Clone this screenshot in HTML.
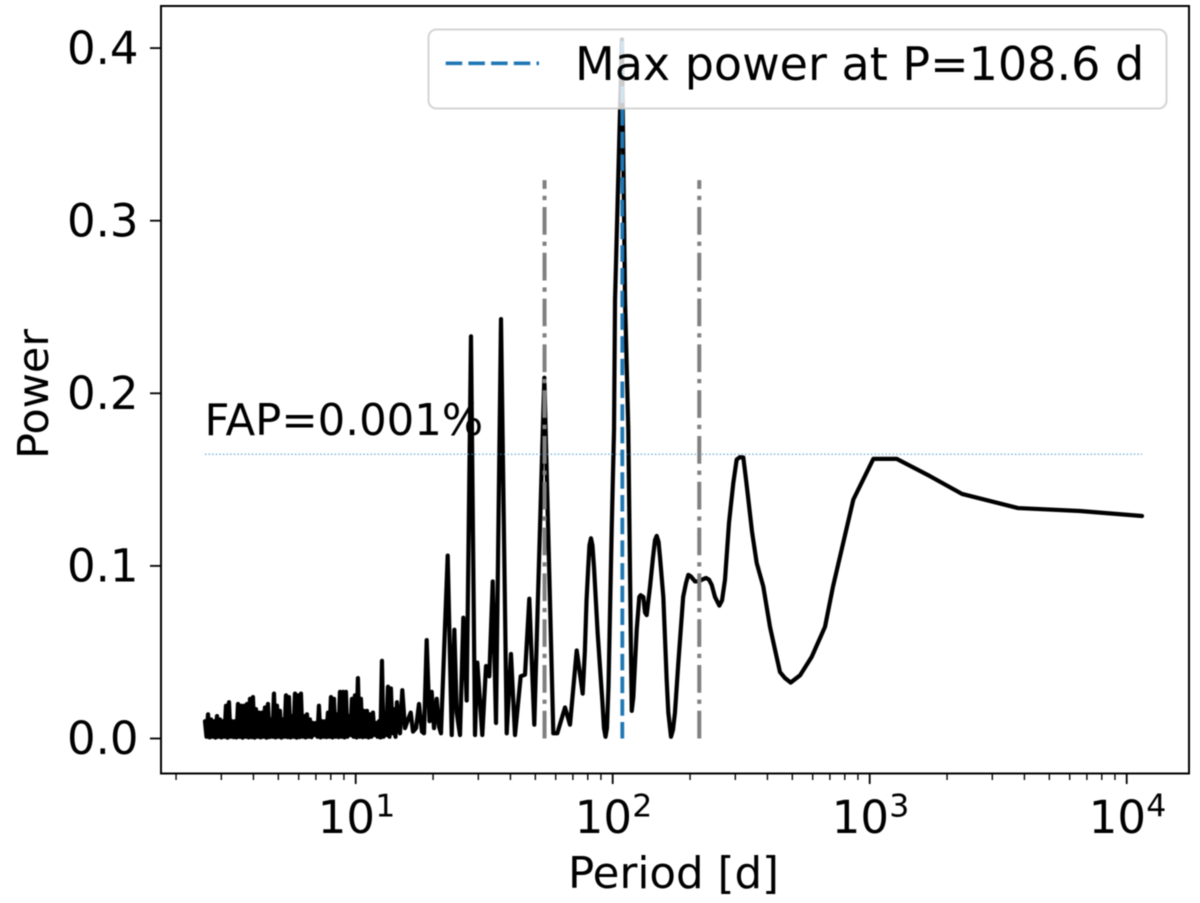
<!DOCTYPE html>
<html lang="en">
<head>
<meta charset="utf-8">
<title>Periodogram</title>
<style>
html,body{margin:0;padding:0;background:#fff;width:1200px;height:903px;overflow:hidden}
svg{display:block;filter:blur(0.45px)}
text{font-family:"DejaVu Sans","Liberation Sans",sans-serif;fill:#000}
</style>
</head>
<body>
<svg id="chart" xmlns="http://www.w3.org/2000/svg" width="1200" height="903" viewBox="0 0 1200 903">
  <rect x="0" y="0" width="1200" height="903" fill="#fff"/>
  <g id="marks"></g>
  <rect x="161" y="6" width="1028" height="767.5" fill="none" stroke="#000" stroke-width="2"/>
  <g id="ticks"></g>
  <text x="204.5" y="435" font-size="43.4">FAP=0.001%</text>
  <text x="568" y="888" font-size="43.5">Period [d]</text>
  <text transform="translate(48,459) rotate(-90)" font-size="43">Power</text>
  <g>
    <rect x="428.5" y="29.5" width="738" height="79" rx="8" ry="8" fill="#fff" fill-opacity="0.8" stroke="#ccc" stroke-opacity="0.85" stroke-width="2"/>
    <line x1="445.7" y1="63.3" x2="539" y2="63.3" stroke="#1f77b4" stroke-width="3.6" stroke-dasharray="16.5 6.2"/>
    <text x="575" y="80" font-size="46">Max power at P=108.6 d</text>
  </g>
</svg>
<script>
var noisePeriods = [2.592,2.627,2.663,2.699,2.735,2.772,2.810,2.848,2.886,2.925,2.964,3.004,3.045,3.086,3.128,3.170,3.213,3.257,3.301,3.345,3.391,3.436,3.483,3.530,3.578,3.626,3.675,3.725,3.775,3.826,3.878,3.930,3.983,4.037,4.092,4.147,4.203,4.260,4.318,4.376,4.435,4.495,4.556,4.618,4.680,4.744,4.808,4.873,4.939,5.005,5.073,5.142,5.211,5.282,5.353,5.426,5.499,5.573,5.649,5.725,5.803,5.881,5.961,6.041,6.123,6.206,6.290,6.375,6.461,6.548,6.637,6.727,6.818,6.910,7.004,7.098,7.194,7.292,7.390,7.490,7.591,7.694,7.798,7.904,8.011,8.119,8.229,8.340,8.453,8.567,8.683,8.800,8.919,9.040,9.162,9.286,9.412,9.539,9.668,9.799,9.931,10.07,10.20,10.34,10.48,10.62,10.76,10.91,11.06,11.21,11.36,11.51,11.67,11.83,11.99,12.15,12.31,12.48,12.65,12.82,12.99,13.17,13.35,13.53,13.71,13.90,14.09,14.28,14.47];
var noisePower = [.010,.001,.014,.0006,.011,.001,.010,.0005,.013,.001,.011,.0006,.010,.001,.019,.0005,.021,.001,.010,.0008,.010,.0006,.020,.001,.019,.0005,.019,.001,.020,.0006,.023,.0008,.024,.0005,.017,.001,.015,.0006,.015,.001,.018,.0005,.020,.0008,.011,.001,.026,.0006,.019,.001,.016,.0005,.011,.001,.025,.0008,.024,.0006,.013,.001,.026,.0005,.025,.0008,.026,.001,.013,.0006,.014,.001,.011,.0008,.009,.002,.009,.001,.019,.0006,.010,.001,.010,.0008,.015,.001,.024,.0006,.023,.001,.014,.0008,.027,.001,.027,.0006,.027,.001,.013,.002,.023,.001,.025,.0006,.035,.001,.023,.0008,.016,.001,.016,.0006,.014,.001,.015,.002,.009,.001,.010,.0006,.045,.001,.010,.002,.030,.001,.029,.003,.017,.001,.021];
var resolvedPeriods = [14.87,15.18,15.55,15.98,16.37,16.71,17.17,17.63,18.11,18.44,18.89,19.37,19.75,20.17,20.66,21.09,21.47,22.80,23.64,24.20,24.72,25.46,26.23,27.03,28.09,29.12,29.73,31.09,32.14,33.10,34.13,35.15,36.76,38.69,40.20,41.67,43.85,45.58,47.37,49.54,54.19,58.74,60.87,65.23,68.21,72.44,76.42,77.9,79.1,80.3,81.2,82.32,83.4,84.6,87.4,91.1,92.5,93.77,95.0,96.3,99.1,101.2,102.1,108.6,111.7,115.0,117.5,118.6,120.3,124.0,126.9,128.5,131.6,133.6,135.6,139.7,143.5,146.1,148.3,150.8,152.8,157.4,162.2,164.6,168.6,171.6,174.7,180,188,192.8,196.9,201.2,209.0,215.3,222.6,230.7,237,242.8,250,259.9,266.3,273.5,283.5,294.6,303.7,312.7,322.3,330.2,336.2,348.3,363.3,385.5,409.4,434.7,447.7,468,492.7,535.7,594.7,670.0,719.7,863.4,1033,1274,1716,2287,3776,6582,11470];
var resolvedPower = [.003,.028,.006,.011,.015,.004,.006,.020,.004,.003,.057,.010,.027,.006,.023,.007,.003,.106,.002,.063,.015,.002,.070,.022,.233,.002,.044,.002,.042,.036,.091,.009,.243,.003,.049,.002,.036,.037,.081,.008,.209,.003,.003,.018,.008,.051,.026,.05,.08,.099,.112,.116,.112,.099,.061,.022,.006,.001,.006,.03,.121,.179,.254,.405,.254,.179,.063,.016,.024,.063,.082,.083,.082,.073,.0715,.088,.105,.115,.1174,.114,.105,.082,.034,.015,.001,.005,.015,.0437,.082,.090,.0948,.094,.091,.091,.092,.093,.092,.089,.082,.077,.08,.092,.125,.148,.1616,.163,.1628,.15,.14,.12,.1017,.088,.0646,.047,.0385,.035,.0324,.0366,.0473,.0647,.088,.1384,.162,.162,.152,.1417,.1335,.1318,.1289];
var fapPeriodRange = [2.592,11470];
var fapLevel = [.1647];
var harmonicPeriods = [54.3,217.2];
var harmonicRange = [0,.3235];
var maxPeriod = [108.6];
var maxPowerRange = [0,.405];
var xMajorExponents = [1,2,3,4];
var xMinorMultipliers = [2,3,4,5,6,7,8,9];
var xMinorDecades = [0,1,2,3];
var yTickValues = [0,.1,.2,.3,.4];
var yTickLabels = ['0.0','0.1','0.2','0.3','0.4'];

var NS = 'http://www.w3.org/2000/svg';
function xScale(p){ return 355.7 + 257 * (Math.log10(p) - 1); }
function yScale(v){ return 738.5 - 1726 * v; }
function make(tag, parent, attrs){
  var el = document.createElementNS(NS, tag);
  for (var k in attrs) el.setAttribute(k, attrs[k]);
  parent.appendChild(el);
  return el;
}
var marks = document.getElementById('marks');
var ticks = document.getElementById('ticks');

var allPeriods = noisePeriods.concat(resolvedPeriods);
var allPower = noisePower.concat(resolvedPower);
var pts = [];
for (var i = 0; i < allPeriods.length; i++) {
  pts.push(xScale(allPeriods[i]).toFixed(2) + ',' + yScale(allPower[i]).toFixed(2));
}
var curve = make('polyline', marks, {points: pts.join(' '), fill: 'none', stroke: '#000', 'stroke-width': 4.2, 'stroke-linejoin': 'round', 'stroke-linecap': 'round'});



var fap = make('line', marks, {x1: xScale(fapPeriodRange[0]), x2: xScale(fapPeriodRange[1]), y1: yScale(fapLevel[0]), y2: yScale(fapLevel[0]), stroke: '#3f93cf', 'stroke-width': 1.2, 'stroke-opacity': 0.85, 'stroke-dasharray': '1.4 2.2'});



harmonicPeriods.forEach(function(p){
  var h = make('line', marks, {x1: xScale(p), x2: xScale(p), y1: yScale(harmonicRange[0]), y2: yScale(harmonicRange[1]), stroke: '#808080', 'stroke-width': 4, 'stroke-dasharray': '27.7 6.9 4.3 6.9'});
  
  
});

var mp = make('line', marks, {x1: xScale(maxPeriod[0]) + 0.4, x2: xScale(maxPeriod[0]) + 0.4, y1: yScale(maxPowerRange[0]), y2: yScale(maxPowerRange[1]), stroke: '#1f77b4', 'stroke-width': 3.8, 'stroke-dasharray': '16.5 6.2'});



xMajorExponents.forEach(function(e){
  var x = xScale(Math.pow(10, e));
  var t = make('line', ticks, {x1: x, x2: x, y1: 773.5, y2: 784, stroke: '#000', 'stroke-width': 1.8});
  
  
  var lab = make('text', ticks, {x: x - 38, y: 833, 'font-size': 45});
  
  
  lab.textContent = '10';
  var sup = make('tspan', lab, {x: x + 19.5, y: 816.5, 'font-size': 31.5});
  sup.textContent = String(e);
});
xMinorDecades.forEach(function(d){
  xMinorMultipliers.forEach(function(m){
    var x = xScale(m * Math.pow(10, d));
    if (x < 161 || x > 1189) return;
    var t = make('line', ticks, {x1: x, x2: x, y1: 773.5, y2: 780, stroke: '#000', 'stroke-width': 1.4});
    
    
  });
});
yTickValues.forEach(function(v, i){
  var y = yScale(v);
  var t = make('line', ticks, {x1: 150, x2: 161, y1: y, y2: y, stroke: '#000', 'stroke-width': 1.8});
  
  
  var lab = make('text', ticks, {x: 67, y: y + 15.7, 'font-size': 45});
  
  
  lab.textContent = yTickLabels[i];
});
</script>
</body>
</html>
